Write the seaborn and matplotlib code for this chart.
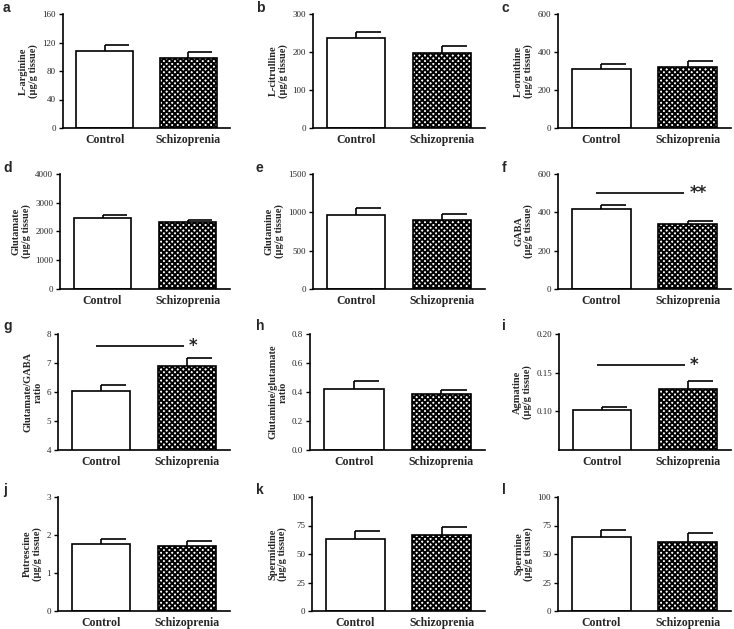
import matplotlib
matplotlib.use("Agg")
import matplotlib.pyplot as plt
import seaborn as sns
import pandas as pd
from matplotlib.ticker import FormatStrFormatter

sns.set_theme(style="ticks")
plt.rcParams['font.family'] = ['Liberation Serif', 'DejaVu Serif']
plt.rcParams['hatch.linewidth'] = 1.4

groups = ["Control", "Schizoprenia"]

panel_letters = ["a", "b", "c", "d", "e", "f", "g", "h", "i", "j", "k", "l"]
ylabels = [
    "L-arginine\n(μg/g tissue)",
    "L-citrulline\n(μg/g tissue)",
    "L-ornithine\n(μg/g tissue)",
    "Glutamate\n(μg/g tissue)",
    "Glutamine\n(μg/g tissue)",
    "GABA\n(μg/g tissue)",
    "Glutamate/GABA\nratio",
    "Glutamine/glutamate\nratio",
    "Agmatine\n(μg/g tissue)",
    "Putrescine\n(μg/g tissue)",
    "Spermidine\n(μg/g tissue)",
    "Spermine\n(μg/g tissue)",
]

means_control = [108, 236, 311, 2465, 969, 416, 6.03, 0.42, 0.1013, 1.77, 62.8, 64.7]
means_schizo = [97.6, 198, 322, 2337, 895, 340, 6.90, 0.386, 0.1285, 1.72, 66.9, 60.6]
sem_control = [8.4, 17, 25, 93, 92, 24, 0.20, 0.058, 0.0044, 0.13, 7.0, 6.1]
sem_schizo = [9.4, 17, 33, 70, 79, 13, 0.26, 0.030, 0.0105, 0.13, 6.7, 7.9]

yticks = [
    [0, 40, 80, 120, 160],
    [0, 100, 200, 300],
    [0, 200, 400, 600],
    [0, 1000, 2000, 3000, 4000],
    [0, 500, 1000, 1500],
    [0, 200, 400, 600],
    [4, 5, 6, 7, 8],
    [0.0, 0.2, 0.4, 0.6, 0.8],
    [0.10, 0.15, 0.20],
    [0, 1, 2, 3],
    [0, 25, 50, 75, 100],
    [0, 25, 50, 75, 100],
]
ylims = [(0, 160), (0, 300), (0, 600), (0, 4000), (0, 1500), (0, 600),
         (4, 8), (0, 0.8), (0.05, 0.20), (0, 3), (0, 100), (0, 100)]
tick_formats = [None, None, None, None, None, None, None, "%.1f", "%.2f", None, None, None]

# significance: (line height, star text)
significance = {5: (503, "**"), 6: (7.6, "*"), 8: (0.1605, "*")}

W, H = 734, 629
fig = plt.figure(figsize=(W / 100, H / 100), dpi=100)

lefts = [[63, 313, 558], [60, 313, 558], [58, 310, 559], [58, 312, 558]]
rights = [230, 485, 731]
tops = [14, 174, 334, 497]
bottoms = [128, 289, 450, 611]
letter_x = [3, 256, 502]
letter_y = [8, 168, 326, 490]

for i in range(12):
    r, c = divmod(i, 3)
    l = lefts[r][c]
    rt = rights[c]
    ax = fig.add_axes([l / W, 1 - bottoms[r] / H, (rt - l) / W, (bottoms[r] - tops[r]) / H])
    df = pd.DataFrame({"group": groups, "value": [means_control[i], means_schizo[i]]})
    sns.barplot(data=df, x="group", y="value", ax=ax, width=0.68,
                color="white", edgecolor="black", linewidth=1.2, errorbar=None,
                zorder=2)
    patches = ax.patches
    patches[0].set_facecolor("white")
    patches[1].set_facecolor("white")
    patches[1].set_hatch("xxxxxx")
    means = [means_control[i], means_schizo[i]]
    sems = [sem_control[i], sem_schizo[i]]
    for xi, (m, s) in enumerate(zip(means, sems)):
        ax.vlines(xi, m, m + s, color="black", lw=1.2, zorder=3)
        ax.hlines(m + s, xi, xi + 0.29, color="black", lw=1.2, zorder=3)
    ax.set_xlim(-0.5, 1.5)
    ax.set_ylim(*ylims[i])
    ax.set_yticks(yticks[i])
    if tick_formats[i]:
        ax.yaxis.set_major_formatter(FormatStrFormatter(tick_formats[i]))
    ax.set_xlabel("")
    ax.set_ylabel(ylabels[i], fontsize=7.5, fontweight="bold", labelpad=3, linespacing=1.1)
    ax.tick_params(axis="y", labelsize=6.5, length=3, width=1, pad=2, color="black")
    ax.tick_params(axis="x", labelsize=8.5, length=0, pad=4)
    for lab in ax.get_xticklabels():
        lab.set_fontweight("bold")
    sns.despine(ax=ax)
    for sp in ["left", "bottom"]:
        ax.spines[sp].set_linewidth(1.2)
        ax.spines[sp].set_color("black")
    ax.set_facecolor("none")
    if i in significance:
        yv, star = significance[i]
        ax.hlines(yv, -0.06, 0.96, color="black", lw=1.2)
        ax.text(1.02, yv, star, fontsize=12, fontweight="bold", ha="left", va="center",
                family=["DejaVu Sans"])
    fig.text(letter_x[c] / W, 1 - letter_y[r] / H, panel_letters[i], fontsize=10,
             fontweight="bold", family=["Liberation Sans", "DejaVu Sans"],
             ha="left", va="center")

fig.savefig("out.png", dpi=100, facecolor="white")
